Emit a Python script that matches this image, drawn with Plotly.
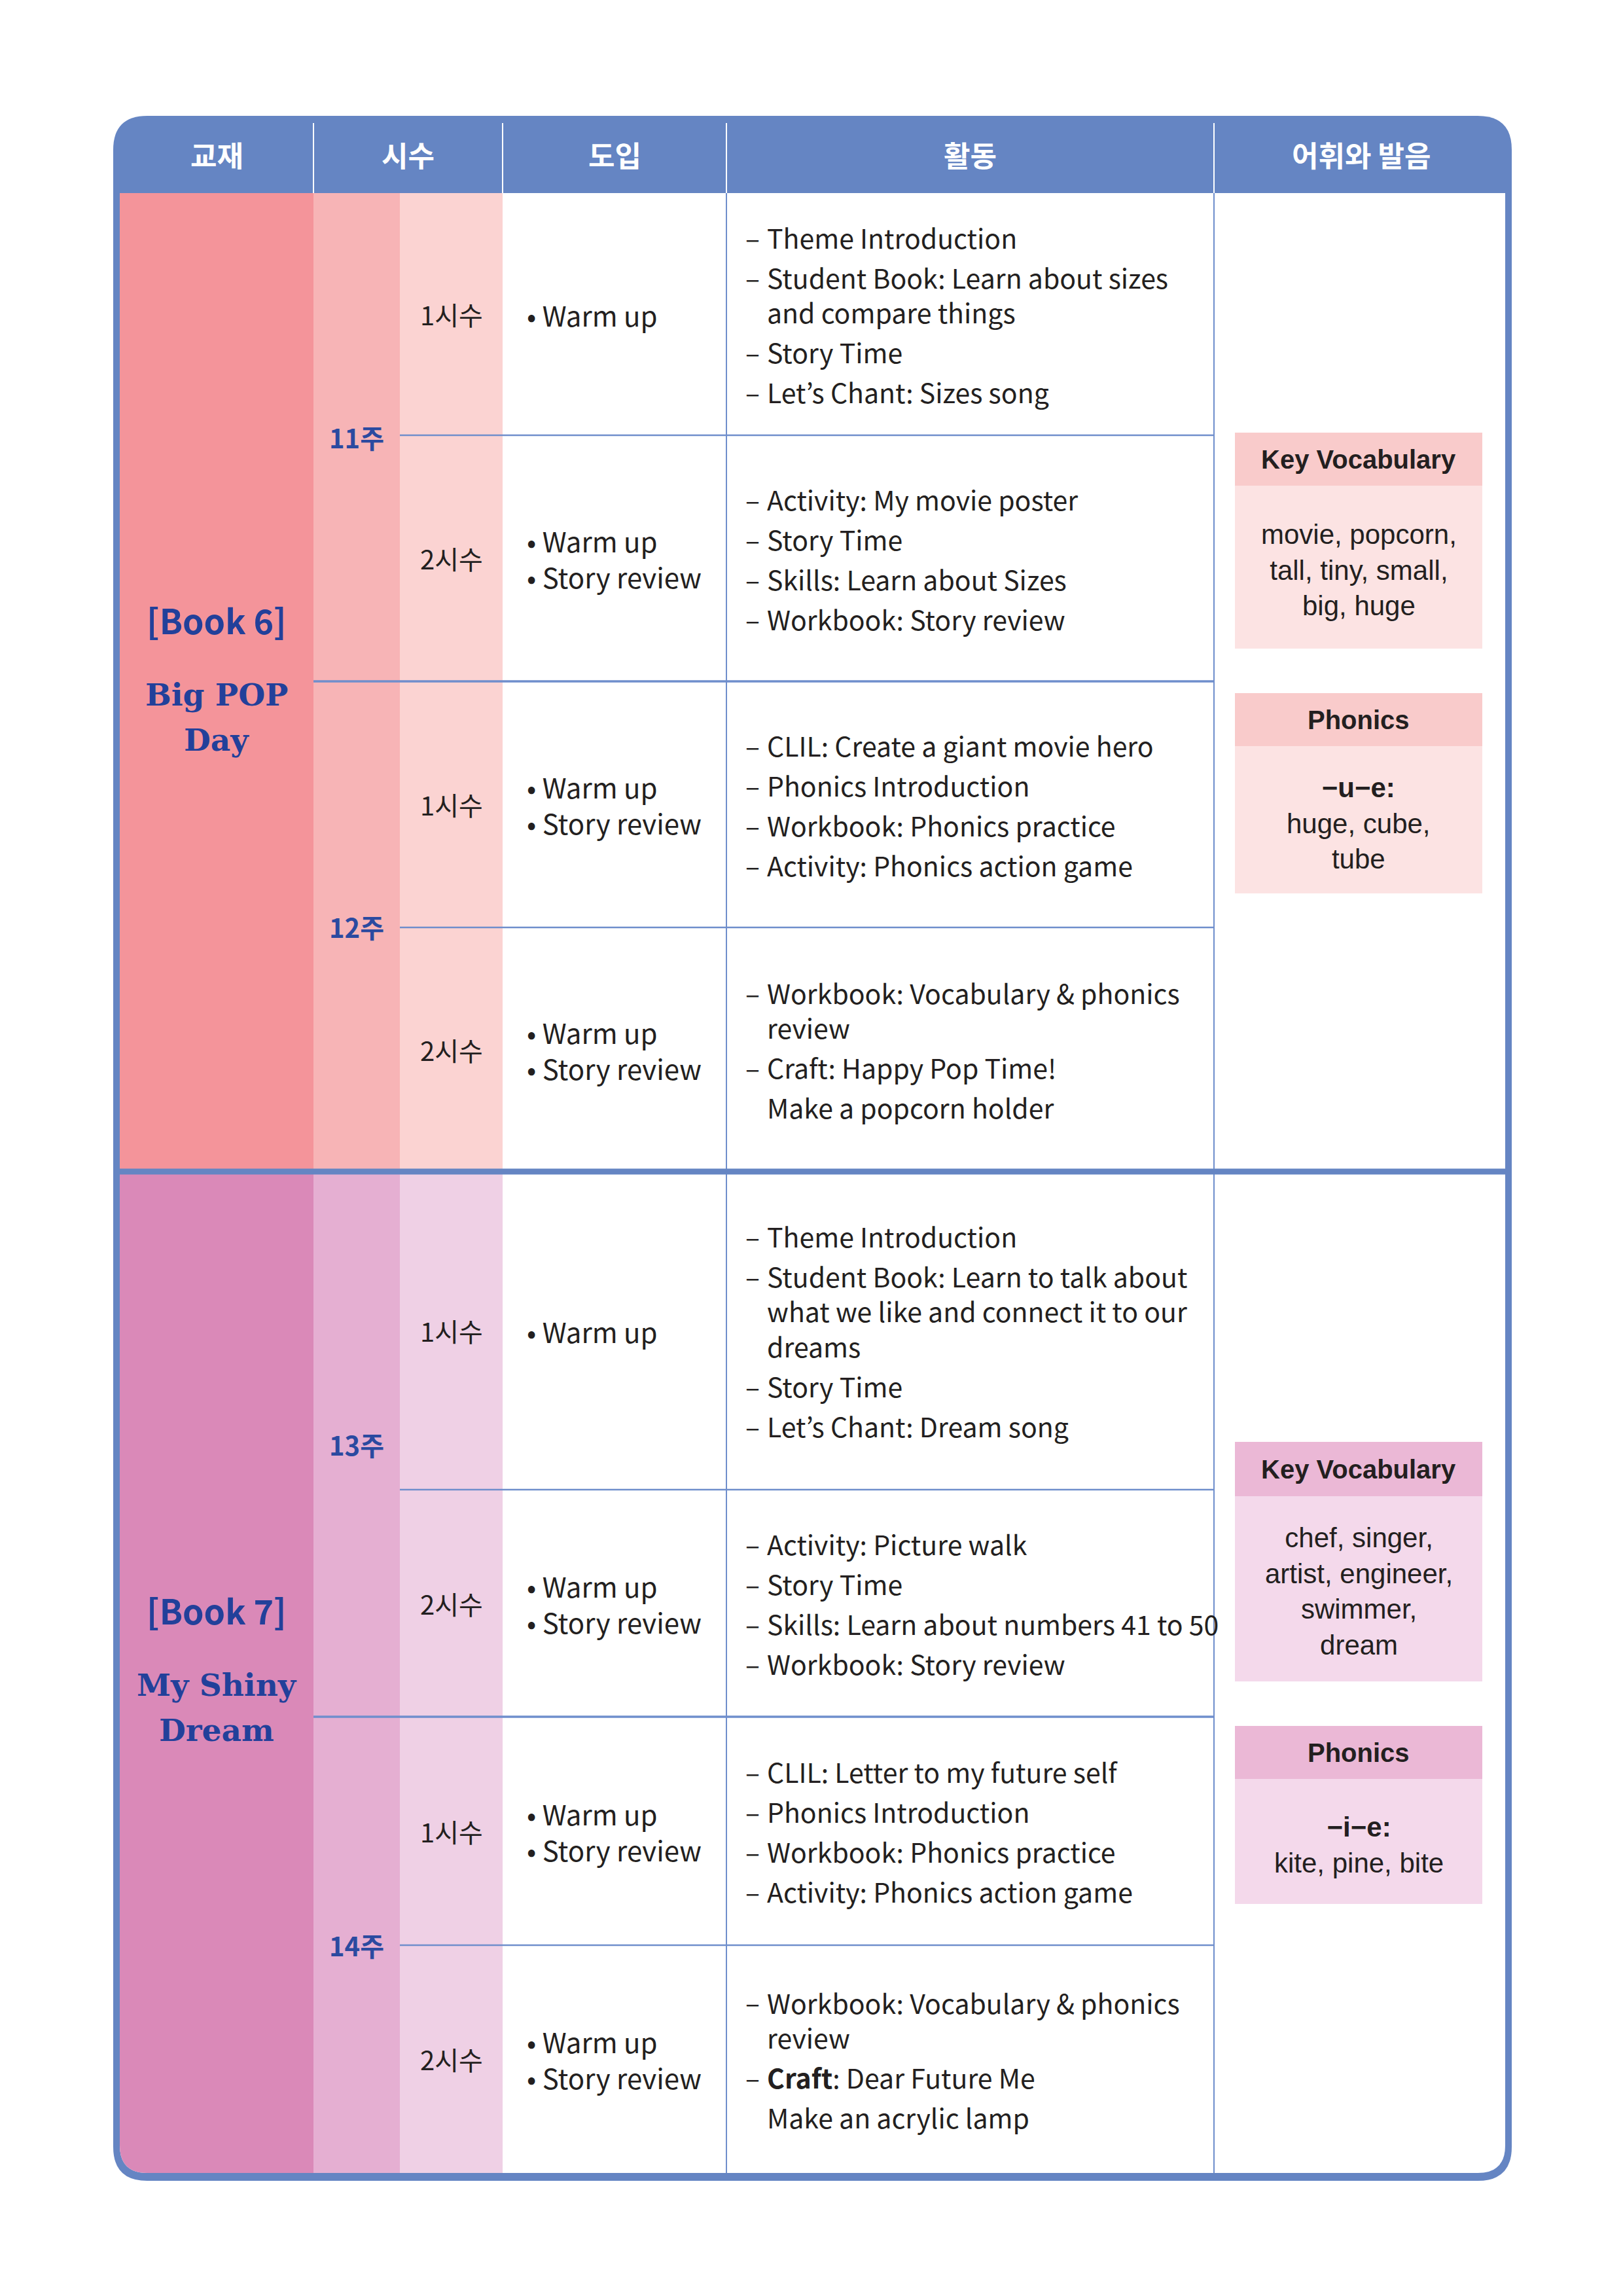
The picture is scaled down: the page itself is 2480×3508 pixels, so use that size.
import plotly.graph_objects as go

# ---------------- content ----------------
headers = ["교재", "시수", "도입", "활동", "어휘와 발음"]
book_tags = ["[Book 6]", "[Book 7]"]
book_names = [["Big POP", "Day"], ["My Shiny", "Dream"]]
weeks = ["11주", "12주", "13주", "14주"]
sessions = ["1시수", "2시수", "1시수", "2시수", "1시수", "2시수", "1시수", "2시수"]
intro = [
    ["Warm up"],
    ["Warm up", "Story review"],
    ["Warm up", "Story review"],
    ["Warm up", "Story review"],
    ["Warm up"],
    ["Warm up", "Story review"],
    ["Warm up", "Story review"],
    ["Warm up", "Story review"],
]
# each entry: (has dash, wrapped lines)
activities = [
    [(True, ["Theme Introduction"]), (True, ["Student Book: Learn about sizes", "and compare things"]),
     (True, ["Story Time"]), (True, ["Let’s Chant: Sizes song"])],
    [(True, ["Activity: My movie poster"]), (True, ["Story Time"]),
     (True, ["Skills: Learn about Sizes"]), (True, ["Workbook: Story review"])],
    [(True, ["CLIL: Create a giant movie hero"]), (True, ["Phonics Introduction"]),
     (True, ["Workbook: Phonics practice"]), (True, ["Activity: Phonics action game"])],
    [(True, ["Workbook: Vocabulary & phonics", "review"]),
     (True, ["Craft: Happy Pop Time!"]), (False, ["Make a popcorn holder"])],
    [(True, ["Theme Introduction"]),
     (True, ["Student Book: Learn to talk about", "what we like and connect it to our", "dreams"]),
     (True, ["Story Time"]), (True, ["Let’s Chant: Dream song"])],
    [(True, ["Activity: Picture walk"]), (True, ["Story Time"]),
     (True, ["Skills: Learn about numbers 41 to 50"]), (True, ["Workbook: Story review"])],
    [(True, ["CLIL: Letter to my future self"]), (True, ["Phonics Introduction"]),
     (True, ["Workbook: Phonics practice"]), (True, ["Activity: Phonics action game"])],
    [(True, ["Workbook: Vocabulary & phonics", "review"]),
     (True, ["<b>Craft</b>: Dear Future Me"]), (False, ["Make an acrylic lamp"])],
]
vocab_title = "Key Vocabulary"
phonics_title = "Phonics"
vocab_words = [["movie, popcorn,", "tall, tiny, small,", "big, huge"],
               ["chef, singer,", "artist, engineer,", "swimmer,", "dream"]]
phonics_rule = ["−u−e:", "−i−e:"]
phonics_words = [["huge, cube,", "tube"], ["kite, pine, bite"]]

# ---------------- layout (page px) ----------------
BLUE = "#6585C3"
LINE = "#6F8ECC"
INK = "#231F20"
NAVY = "#22409A"
KR = "Noto Sans CJK KR"
LAT = "Liberation Sans"
SERIF = "DejaVu Serif"

col_x = [183, 479, 611, 768, 1110, 1855, 2300]
top, head_bot, bottom = 177, 295, 3320
row_y = [295, 665, 1041, 1417, 1790, 2276, 2623, 2972, 3320]
section_fill = [["#F4949A", "#F7B4B6", "#FBD3D2"], ["#DA89B8", "#E5AFD2", "#EFD0E5"]]
box_fill = [["#F9CBCB", "#FCE3E3"], ["#EBB8D6", "#F4D9EB"]]
kv_box = [(661, 742, 991), (2203, 2286, 2569)]
ph_box = [(1059, 1140, 1365), (2637, 2718, 2909)]
box_x = (1887, 2265)

ACT_SIZE = 41
WRAP = 1.3 * ACT_SIZE      # plotly line spacing inside one annotation
ITEM_GAP = 61


def panel(x0, y0, x1, y1, tl=0, tr=0, br=0, bl=0):
    return (f"M {x0+tl},{y0} L {x1-tr},{y0} Q {x1},{y0} {x1},{y0+tr} "
            f"L {x1},{y1-br} Q {x1},{y1} {x1-br},{y1} L {x0+bl},{y1} "
            f"Q {x0},{y1} {x0},{y1-bl} L {x0},{y0+tl} Q {x0},{y0} {x0+tl},{y0} Z")


shapes = []
# outer frame + header
shapes.append(dict(type="path", path=panel(173, top, 2310, 3332, 52, 52, 52, 52),
                   fillcolor=BLUE, line_width=0))
shapes.append(dict(type="path", path=panel(col_x[0], head_bot, col_x[6], bottom, 0, 0, 42, 42),
                   fillcolor="white", line_width=0))

# coloured columns per section
for s in range(2):
    y0, y1 = row_y[4 * s], row_y[4 * s + 4]
    for c in range(3):
        bl = 42 if (s == 1 and c == 0) else 0
        shapes.append(dict(type="path", path=panel(col_x[c], y0, col_x[c + 1], y1, 0, 0, 0, bl),
                           fillcolor=section_fill[s][c], line_width=0))
    for (a, b, c2) in (kv_box[s], ph_box[s]):
        shapes.append(dict(type="rect", x0=box_x[0], x1=box_x[1], y0=a, y1=b,
                           fillcolor=box_fill[s][0], line_width=0))
        shapes.append(dict(type="rect", x0=box_x[0], x1=box_x[1], y0=b, y1=c2,
                           fillcolor=box_fill[s][1], line_width=0))

# vertical rules
for x in (col_x[4], col_x[5]):
    shapes.append(dict(type="line", x0=x, x1=x, y0=head_bot, y1=bottom, line=dict(color=LINE, width=2)))
# horizontal rules
for i in range(1, 8):
    y = row_y[i]
    if i == 4:
        shapes.append(dict(type="line", x0=col_x[0], x1=col_x[6], y0=y, y1=y, line=dict(color=BLUE, width=9)))
    elif i % 2 == 0:
        shapes.append(dict(type="line", x0=col_x[1], x1=col_x[5], y0=y, y1=y, line=dict(color=LINE, width=3.5)))
    else:
        shapes.append(dict(type="line", x0=col_x[2], x1=col_x[5], y0=y, y1=y, line=dict(color=LINE, width=2.5)))
# header separators
for x in (col_x[1], col_x[3], col_x[4], col_x[5]):
    shapes.append(dict(type="line", x0=x, x1=x, y0=188, y1=head_bot, line=dict(color="white", width=2)))

ann = []


def txt(x, y, s, size, color=INK, family=KR, xa="left", align="left"):
    ann.append(dict(x=x, y=y, text=s, showarrow=False, xanchor=xa, yanchor="middle", align=align,
                    font=dict(size=size, color=color, family=family)))


# header labels
head_cx = [(col_x[0] + col_x[1]) / 2, (col_x[1] + col_x[3]) / 2, (col_x[3] + col_x[4]) / 2,
           (col_x[4] + col_x[5]) / 2, (col_x[5] + 2305) / 2]
for h, cx in zip(headers, head_cx):
    txt(cx, 236, f"<b>{h}</b>", 44, "white", xa="center", align="center")

# book titles
for s in range(2):
    mid = (row_y[4 * s] + row_y[4 * s + 4]) / 2
    cx = (col_x[0] + col_x[1]) / 2
    txt(cx, mid - 96, f"<b>{book_tags[s]}</b>", 52, NAVY, xa="center", align="center")
    for k, name in enumerate(book_names[s]):
        txt(cx, mid + 19 + 69 * k, f"<b>{name}</b>", 47, NAVY, SERIF, xa="center", align="center")

# week labels
for w, wk in enumerate(weeks):
    y = (row_y[2 * w] + row_y[2 * w + 2]) / 2
    txt((col_x[1] + col_x[2]) / 2, y, f"<b>{wk}</b>", 40, "#2B4AA0", xa="center", align="center")

# rows
for r in range(8):
    mid = (row_y[r] + row_y[r + 1]) / 2
    txt((col_x[2] + col_x[3]) / 2, mid, sessions[r], 40, xa="center", align="center")
    txt(803, mid, "<br>".join("• " + it for it in intro[r]), 42)

    firsts = [0.0]
    for _, lines in activities[r][:-1]:
        firsts.append(firsts[-1] + (len(lines) - 1) * WRAP + ITEM_GAP)
    last_end = firsts[-1] + (len(activities[r][-1][1]) - 1) * WRAP
    off = mid - last_end / 2
    for (dash, lines), y0 in zip(activities[r], firsts):
        if dash:
            txt(1137, y0 + off, "–", ACT_SIZE)
        txt(1170, y0 + off + (len(lines) - 1) * WRAP / 2, "<br>".join(lines), ACT_SIZE)

# vocabulary boxes
bx = sum(box_x) / 2
for s in range(2):
    a, b, c = kv_box[s]
    txt(bx, (a + b) / 2, f"<b>{vocab_title}</b>", 40, family=LAT, xa="center", align="center")
    txt(bx, (b + c) / 2 + 4, "<br>".join(vocab_words[s]), 42, family=LAT, xa="center", align="center")
    a, b, c = ph_box[s]
    txt(bx, (a + b) / 2, f"<b>{phonics_title}</b>", 40, family=LAT, xa="center", align="center")
    body = "<br>".join([f"<b>{phonics_rule[s]}</b>"] + phonics_words[s])
    txt(bx, (b + c) / 2 + 5, body, 42, family=LAT, xa="center", align="center")

fig = go.Figure()
fig.update_layout(
    width=2480, height=3508,
    margin=dict(l=0, r=0, t=0, b=0),
    paper_bgcolor="white", plot_bgcolor="white",
    xaxis=dict(range=[0, 2480], visible=False, fixedrange=True),
    yaxis=dict(range=[3508, 0], visible=False, fixedrange=True),
    showlegend=False,
    shapes=shapes,
    annotations=ann,
)
fig.write_html("out.html", config={"displayModeBar": False},
               post_script="document.body.style.margin='0px';")
